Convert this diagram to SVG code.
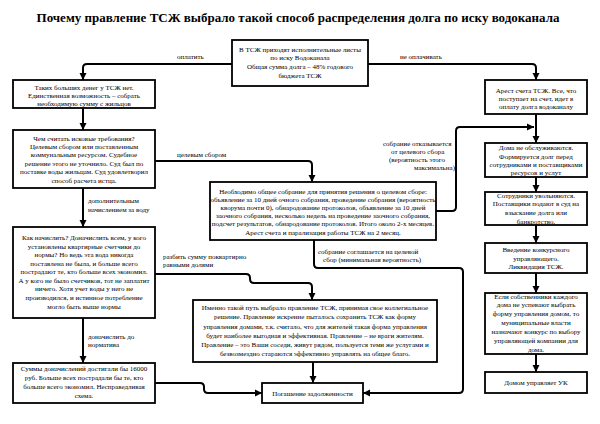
<svg xmlns="http://www.w3.org/2000/svg" width="600" height="424" viewBox="0 0 600 424">
<style>
.box{fill:#fff;stroke:#000;stroke-width:1.8}
text{font-family:"Liberation Serif","Times New Roman",serif;font-size:7px;fill:#000}
.c text,.n text{text-anchor:middle}
.lbl{text-anchor:start}
.title{font-size:13px;font-weight:bold;text-anchor:middle}
.con{fill:none;stroke:#000;stroke-width:2}
</style>
<defs>
<marker id="ar" markerUnits="userSpaceOnUse" markerWidth="8" markerHeight="8" refX="7" refY="4" orient="auto">
<path d="M0,0.5 L7,4 L0,7.5 z" fill="#000"/>
</marker>
</defs>
<rect width="600" height="424" fill="#fff"/>
<text class="title" x="298" y="22">Почему правление ТСЖ выбрало такой способ распределения долга по иску водоканала</text>

<g id="connectors">
<path class="con" marker-end="url(#ar)" d="M232,64 H87 Q83,64 83,68 V80"/>
<path class="con" marker-end="url(#ar)" d="M368,64 H532 Q536,64 536,68 V80"/>
<path class="con" marker-end="url(#ar)" d="M83,108 V130"/>
<path class="con" marker-end="url(#ar)" d="M155,161 H308 Q312,161 312,165 V182"/>
<path class="con" marker-end="url(#ar)" d="M83,188 V227"/>
<path class="con" marker-end="url(#ar)" d="M155,274 H246 Q250,274 250,278 V279 Q250,283 254,283 H308 Q312,283 312,287 V300"/>
<path class="con" marker-end="url(#ar)" d="M83,318 V363"/>
<path class="con" marker-end="url(#ar)" d="M155,383 H200 Q204,383 204,387 V389 Q204,393 208,393 H262"/>
<path class="con" marker-end="url(#ar)" d="M313,362 V383"/>
<path class="con" marker-end="url(#ar)" d="M436,211 H452 Q456,211 456,207 V131 Q456,127 460,127 H534"/>
<path class="con" marker-end="url(#ar)" d="M314,240 V264 Q314,268 318,268 H459 Q463,268 463,272 V389 Q463,393 459,393 H363"/>
<path class="con" marker-end="url(#ar)" d="M536,114 V143"/>
<path class="con" marker-end="url(#ar)" d="M536,177 V192"/>
<path class="con" marker-end="url(#ar)" d="M536,225 V243"/>
<path class="con" marker-end="url(#ar)" d="M536,273 V293"/>
<path class="con" marker-end="url(#ar)" d="M536,354 V372"/>
<g id="labels">
<text class="lbl" x="177" y="59">оплатить</text>
<text class="lbl" x="400" y="59">не оплачивать</text>
<text class="lbl" x="177" y="157">целевым сбором</text>
<text class="lbl" x="88" y="203">дополнительным</text>
<text class="lbl" x="88" y="212">начислением за воду</text>
<text class="lbl" x="163" y="259">разбить сумму поквартирно</text>
<text class="lbl" x="163" y="267">равными долями</text>
<text class="lbl" x="88" y="339">доначислить до</text>
<text class="lbl" x="88" y="347">норматива</text>
<text class="lbl" x="383" y="146">собрание отказывается</text>
<text class="lbl" x="391" y="154">от целевого сбора</text>
<text class="lbl" x="389" y="162">(вероятность этого</text>
<text class="lbl" x="414" y="170">максимальна)</text>
<text class="lbl" x="318" y="254">собрание соглашается на целевой</text>
<text class="lbl" x="323" y="262">сбор (минимальная вероятность)</text>
</g>
</g>

<g id="n-top" class="n">
<rect class="box" x="232" y="40" width="136" height="46"/>
<text x="300" y="52">В ТСЖ приходят исполнительные листы</text>
<text x="300" y="60">по иску Водоканала</text>
<text x="300" y="69">Общая сумма долга – 48% годового</text>
<text x="300" y="78">бюджета ТСЖ</text>
</g>

<g id="n-money" class="n">
<rect class="box" x="13" y="80" width="142" height="28"/>
<text x="84" y="90">Таких больших денег у ТСЖ нет.</text>
<text x="84" y="98">Единственная возможность – собрать</text>
<text x="84" y="106">необходимую сумму с жильцов</text>
</g>

<g id="n-how-count" class="n">
<rect class="box" x="13" y="130" width="142" height="58"/>
<text x="84" y="141">Чем считать исковые требования?</text>
<text x="84" y="149">Целевым сбором или поставленным</text>
<text x="84" y="157">коммунальным ресурсом. Судебное</text>
<text x="84" y="166">решение этого не уточнило. Суд был по</text>
<text x="84" y="174">поставке воды жильцам. Суд удовлетворил</text>
<text x="84" y="183">способ расчета истца.</text>
</g>

<g id="n-how-charge" class="n">
<rect class="box" x="13" y="227" width="142" height="91"/>
<text x="84" y="240">Как начислить? Доначислить всем, у кого</text>
<text x="84" y="249">установлены квартирные счетчики  до</text>
<text x="84" y="257">нормы? Но ведь эта вода никогда</text>
<text x="84" y="266">поставлена не была, и больше всего</text>
<text x="84" y="274">пострадают те, кто больше всех экономил.</text>
<text x="84" y="283">А у кого не было счетчиков, тот не заплатит</text>
<text x="84" y="291">ничего. Хотя учет воды у него не</text>
<text x="84" y="300">производился, и истинное потребление</text>
<text x="84" y="309">могло быть выше нормы</text>
</g>

<g id="n-sums" class="n">
<rect class="box" x="13" y="363" width="142" height="40"/>
<text x="84" y="371">Суммы доначислений достигали бы 16000</text>
<text x="84" y="380">руб. Больше всех пострадали бы те, кто</text>
<text x="84" y="389">больше всего экономил. Несправедливая</text>
<text x="84" y="398">схема.</text>
</g>

<g id="n-meeting" class="n">
<rect class="box" x="210" y="182" width="226" height="58"/>
<text x="323" y="194">Необходимо общее собрание для принятия решения о целевом сборе:</text>
<text x="323" y="202">объявление за 10 дней очного собрания, проведение собрания (вероятность</text>
<text x="323" y="210">кворума почти 0), обнародование протоколов, объявление за 10 дней</text>
<text x="323" y="218">заочного собрания, несколько недель на проведение заочного собрания,</text>
<text x="323" y="226">подсчет результатов, обнародование протоколов. Итого около 2-х месяцев.</text>
<text x="323" y="235">Арест счета и парализация работы ТСЖ на 2 месяц.</text>
</g>

<g id="n-chosen" class="n">
<rect class="box" x="193" y="300" width="244" height="62"/>
<text x="315" y="310">Именно такой путь выбрало правление ТСЖ, принимая свое коллегиальное</text>
<text x="315" y="319">решение. Правление искренне пыталось сохранить ТСЖ как форму</text>
<text x="315" y="329">управления домами, т.к. считало, что для жителей такая форма управления</text>
<text x="315" y="338">будет наиболее выгодная и эффективная. Правление – не враги жителям.</text>
<text x="315" y="347">Правление – это Ваши соседи, живут рядом, пользуется теми же услугами и</text>
<text x="315" y="356">безвозмездно стараются эффективно управлять на общее благо.</text>
</g>

<g id="n-repay" class="n">
<rect class="box" x="262" y="383" width="101" height="20"/>
<text x="312.5" y="395.5">Погашение задолженности</text>
</g>

<g id="n-arrest" class="n">
<rect class="box" x="485" y="80" width="102" height="34"/>
<text x="536" y="93">Арест счета ТСЖ. Все, что</text>
<text x="536" y="101">поступает на счет, идет в</text>
<text x="536" y="109">оплату долга водоканалу</text>
</g>

<g id="n-houses" class="n">
<rect class="box" x="485" y="143" width="102" height="34"/>
<text x="536" y="150">Дома не обслуживаются.</text>
<text x="536" y="159">Формируется долг перед</text>
<text x="536" y="167">сотрудниками и поставщиками</text>
<text x="536" y="175">ресурсов и услут</text>
</g>

<g id="n-staff" class="n">
<rect class="box" x="485" y="192" width="102" height="33"/>
<text x="536" y="198">Сотрудники увольняются.</text>
<text x="536" y="206">Поставщики подают в суд на</text>
<text x="536" y="215">взыскание долга или</text>
<text x="536" y="224">банкротство.</text>
</g>

<g id="n-receiver" class="n">
<rect class="box" x="485" y="243" width="102" height="30"/>
<text x="536" y="252">Введение конкурсного</text>
<text x="536" y="261">управляющего.</text>
<text x="536" y="269">Ликвидация ТСЖ.</text>
</g>

<g id="n-owners" class="n">
<rect class="box" x="485" y="293" width="102" height="61"/>
<text x="536" y="299">Если собственники каждого</text>
<text x="536" y="307">дома не успевают выбрать</text>
<text x="536" y="316">форму управления домом, то</text>
<text x="536" y="325">муниципальные власти</text>
<text x="536" y="334">назначают конкурс по выбору</text>
<text x="536" y="343">управляющей компании для</text>
<text x="536" y="352">дома.</text>
</g>

<g id="n-uk" class="n">
<rect class="box" x="485" y="372" width="102" height="21"/>
<text x="536" y="385">Домом управляет УК</text>
</g>
</svg>
